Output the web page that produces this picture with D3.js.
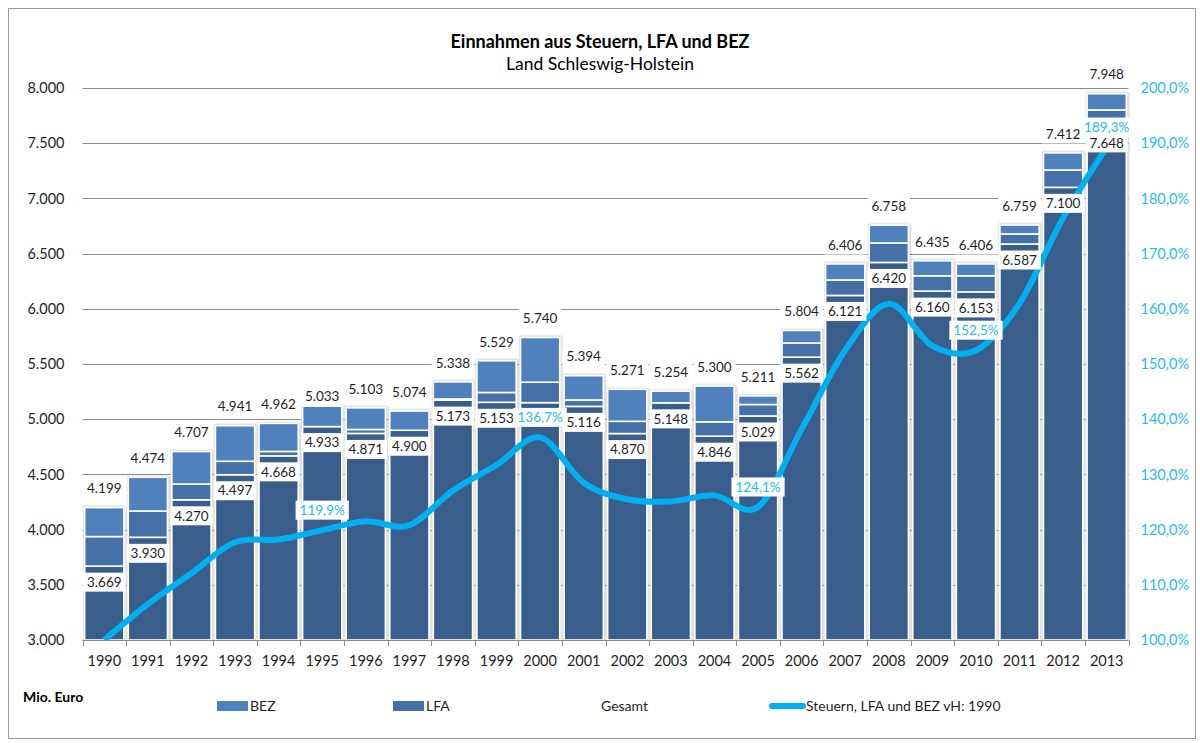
<!DOCTYPE html>
<html>
<head>
<meta charset="utf-8">
<script src="https://cdn.jsdelivr.net/npm/d3@7"></script>
<style>
  html, body { margin: 0; padding: 0; background: #fff; }
  svg { display: block; font-family: Lato, "Open Sans", sans-serif; }
</style>
</head>
<body>
<svg id="chart" width="1200" height="743"></svg>
<script>
// ---- data ----
const years   = ["1990","1991","1992","1993","1994","1995","1996","1997","1998","1999","2000","2001","2002","2003","2004","2005","2006","2007","2008","2009","2010","2011","2012","2013"];
const steuern = [3669,3930,4270,4497,4668,4933,4871,4900,5173,5153,5150,5116,4870,5148,4846,5029,5562,6121,6420,6160,6153,6587,7100,7648];
const lfa     = [268,238,143,122,40,0,36,0,10,89,185,58,111,0,130,104,128,140,176,139,146,91,157,153];
const bez     = [262,306,294,322,254,185,196,174,155,287,405,220,290,106,324,78,114,145,162,136,107,81,155,147];
const gesamt  = [4199,4474,4707,4941,4962,5033,5103,5074,5338,5529,5740,5394,5271,5254,5300,5211,5804,6406,6758,6435,6406,6759,7412,7948];
const indexVH = [100.0,106.5,112.1,117.7,118.2,119.9,121.5,120.8,127.1,131.7,136.7,128.5,125.5,125.1,126.2,124.1,138.2,152.5,160.9,153.3,152.5,161.0,176.5,189.3];
const pctLabelYears = ["1995","2000","2005","2010","2013"];
const hiddenSteuernLabel = ["2000"];   // covered by the percentage label in the original
const leftTicks  = [3000,3500,4000,4500,5000,5500,6000,6500,7000,7500,8000];
const rightTicks = [100,110,120,130,140,150,160,170,180,190,200];

// ---- setup ----
const svg = d3.select("#chart");
const loc = d3.formatLocale({decimal: ",", thousands: ".", grouping: [3], currency: ["", " €"]});
const fmtInt = loc.format(",d");
const fmtPct = v => loc.format(".1f")(v) + "%";

const plot = {left: 82.5, right: 1128.5, top: 88, bottom: 640};
const x = d3.scaleBand().domain(years).range([plot.left, plot.right]).paddingInner(0.1).paddingOuter(0.05);
const y = d3.scaleLinear().domain([3000, 8000]).range([plot.bottom, plot.top]);
const y2 = d3.scaleLinear().domain([100, 200]).range([plot.bottom, plot.top]);

const colSt = "#3A5E8C", colLfa = "#4571A8", colBez = "#4F81BD", colLine = "#00B0F0", colPctTxt = "#26BCEE";
const txtCol = "#1f1f1f";

// frame
svg.append("rect").attr("x", 8.5).attr("y", 8.5).attr("width", 1187).attr("height", 730)
  .attr("fill", "#fff").attr("stroke", "#9a9a9a").attr("stroke-width", 1);

const defs = svg.append("defs");
const f = defs.append("filter").attr("id", "shadow").attr("x", "-20%").attr("y", "-5%").attr("width", "140%").attr("height", "110%");
f.append("feDropShadow").attr("dx", 1).attr("dy", 0).attr("stdDeviation", 1.2).attr("flood-color", "#000").attr("flood-opacity", 0.2);
defs.append("clipPath").attr("id", "plotclip").append("rect")
  .attr("x", plot.left).attr("y", 0).attr("width", plot.right - plot.left).attr("height", plot.bottom);

// title
svg.append("text").attr("x", 600).attr("y", 48).attr("text-anchor", "middle")
  .attr("font-size", 18).attr("font-weight", "bold").attr("fill", "#000")
  .text("Einnahmen aus Steuern, LFA und BEZ");
svg.append("text").attr("x", 600).attr("y", 70).attr("text-anchor", "middle")
  .attr("font-size", 17.5).attr("fill", "#000").text("Land Schleswig-Holstein");

// gridlines
svg.append("g").selectAll("line").data(leftTicks.slice(1)).join("line")
  .attr("x1", plot.left).attr("x2", plot.right)
  .attr("y1", d => Math.round(y(d)) + 0.5).attr("y2", d => Math.round(y(d)) + 0.5)
  .attr("stroke", "#8c8c8c").attr("stroke-width", 1);

// left axis
const yAxis = d3.axisLeft(y).tickValues(leftTicks).tickFormat(fmtInt).tickSize(0).tickPadding(18);
const gy = svg.append("g").attr("transform", `translate(${plot.left},0)`).call(yAxis);
gy.select(".domain").remove();
gy.selectAll("text").attr("font-size", 14.5).attr("fill", txtCol).attr("font-family", "Lato, sans-serif");

// right axis
const yAxis2 = d3.axisRight(y2).tickValues(rightTicks).tickFormat(fmtPct).tickSize(0).tickPadding(12);
const gy2 = svg.append("g").attr("transform", `translate(${plot.right},0)`).call(yAxis2);
gy2.select(".domain").remove();
gy2.selectAll("text").attr("font-size", 14.5).attr("fill", colPctTxt).attr("font-family", "Lato, sans-serif");

// stacked bars (baseline 3000)
const rows = years.map((yr, i) => ({year: yr, st: steuern[i], lfa: lfa[i], bez: bez[i], g: gesamt[i], p: indexVH[i]}));
const series = d3.stack().keys(["st", "lfa", "bez"])(rows);
const colors = {st: colSt, lfa: colLfa, bez: colBez};

const barG = svg.append("g");
// soft outline / shadow behind each bar
barG.append("g").selectAll("rect").data(rows).join("rect")
  .attr("x", d => x(d.year) - 1.5).attr("width", x.bandwidth() + 3)
  .attr("y", d => y(d.st + d.lfa + d.bez) - 1.5)
  .attr("height", d => y(3000) - y(d.st + d.lfa + d.bez) + 1.5)
  .attr("fill", "#dedede").attr("filter", "url(#shadow)");
series.forEach(s => {
  barG.append("g").selectAll("rect").data(s.filter(d => d[1] - d[0] > 0)).join("rect")
    .attr("x", d => x(d.data.year))
    .attr("width", x.bandwidth())
    .attr("y", d => y(d[1]))
    .attr("height", d => Math.max(0, (s.key === "st" ? y(3000) : y(d[0])) - y(d[1])))
    .attr("fill", colors[s.key])
    .attr("stroke", "#fff").attr("stroke-width", 1.6);
});

// x axis
const xAxisG = svg.append("g");
xAxisG.append("line").attr("x1", plot.left).attr("x2", plot.right)
  .attr("y1", plot.bottom + 0.5).attr("y2", plot.bottom + 0.5).attr("stroke", "#8c8c8c");
const bounds = years.map(yr => x(yr) - x.step() * x.paddingInner() / 2).concat([plot.right]);
xAxisG.selectAll("line.tk").data(bounds).join("line").attr("class", "tk")
  .attr("x1", d => Math.round(d) + 0.5).attr("x2", d => Math.round(d) + 0.5)
  .attr("y1", plot.bottom).attr("y2", plot.bottom + 6).attr("stroke", "#8c8c8c");
svg.append("g").selectAll("text").data(years).join("text")
  .attr("x", d => x(d) + x.bandwidth() / 2).attr("y", 666)
  .attr("text-anchor", "middle").attr("font-size", 14.5).attr("fill", txtCol).text(d => d);

// line
const line = d3.line().x(d => x(d.year) + x.bandwidth() / 2).y(d => y2(d.p)).curve(d3.curveCardinal.tension(0));
svg.append("path").datum(rows).attr("d", line).attr("fill", "none")
  .attr("stroke", colLine).attr("stroke-width", 6).attr("stroke-linejoin", "round")
  .attr("clip-path", "url(#plotclip)");

// labels helper
function boxLabel(g, cx, cy, text, color) {
  const t = g.append("text").attr("x", cx).attr("y", cy).attr("dy", "0.35em")
    .attr("text-anchor", "middle").attr("font-size", 13.5).attr("fill", color).text(text);
  const w = t.node().getComputedTextLength();
  g.insert("rect", () => t.node()).attr("x", cx - w / 2 - 4).attr("y", cy - 9.5).attr("width", w + 8).attr("height", 19).attr("fill", "#fff");
}
const labG = svg.append("g");
rows.filter(d => !hiddenSteuernLabel.includes(d.year)).forEach(d => {
  const cx = x(d.year) + x.bandwidth() / 2;
  boxLabel(labG, cx, y(d.st) + 16, fmtInt(d.st), txtCol);
});
rows.forEach(d => {
  const cx = x(d.year) + x.bandwidth() / 2;
  boxLabel(labG, cx, y(d.g) - 19, fmtInt(d.g), txtCol);
});
rows.filter(d => pctLabelYears.includes(d.year)).forEach(d => {
  const cx = x(d.year) + x.bandwidth() / 2;
  boxLabel(labG, cx, y2(d.p) - 20, fmtPct(d.p), colPctTxt);
});

// legend
const lg = svg.append("g");
lg.append("text").attr("x", 23).attr("y", 697).attr("dy", "0.35em").attr("font-size", 14).attr("font-weight", "bold").attr("fill", "#000").text("Mio. Euro");
lg.append("rect").attr("x", 217).attr("y", 701).attr("width", 31).attr("height", 10).attr("fill", colBez);
lg.append("text").attr("x", 250).attr("y", 706).attr("dy", "0.35em").attr("font-size", 14).attr("fill", txtCol).text("BEZ");
lg.append("rect").attr("x", 393).attr("y", 701).attr("width", 31).attr("height", 10).attr("fill", colLfa);
lg.append("text").attr("x", 426).attr("y", 706).attr("dy", "0.35em").attr("font-size", 14).attr("fill", txtCol).text("LFA");
lg.append("text").attr("x", 601).attr("y", 706).attr("dy", "0.35em").attr("font-size", 14).attr("fill", txtCol).text("Gesamt");
lg.append("line").attr("x1", 772).attr("x2", 803).attr("y1", 706).attr("y2", 706).attr("stroke", colLine).attr("stroke-width", 6).attr("stroke-linecap", "round");
lg.append("text").attr("x", 806).attr("y", 706).attr("dy", "0.35em").attr("font-size", 14).attr("fill", txtCol).text("Steuern, LFA und BEZ vH: 1990");
</script>
</body>
</html>
